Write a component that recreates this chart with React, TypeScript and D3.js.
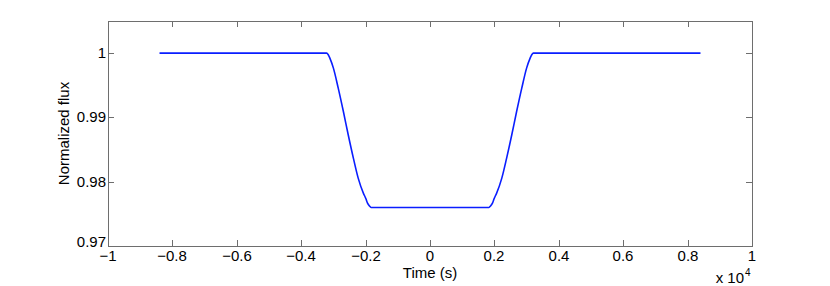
import React, { useRef, useEffect } from "react";
import * as d3 from "d3";

// light curve (time in s, normalized flux)
const times = [
  -8400, -3210, -3160, -3110, -3000, -2850, -2690, -2540, -2380, -2230, -2070, -1990, -1940, -1880, -1830,
  1830, 1880, 1940, 1990, 2070, 2230, 2380, 2540, 2690, 2850, 3000, 3110, 3160, 3210, 8400,
];
const flux = [
  1.0, 1.0, 0.99975, 0.99922, 0.99767, 0.99456, 0.99092, 0.9873, 0.98367, 0.98056, 0.97823, 0.97735, 0.97667, 0.97622, 0.976,
  0.976, 0.97622, 0.97667, 0.97735, 0.97823, 0.98056, 0.98367, 0.9873, 0.99092, 0.99456, 0.99767, 0.99922, 0.99975, 1.0, 1.0,
];
const xTicks = [-1, -0.8, -0.6, -0.4, -0.2, 0, 0.2, 0.4, 0.6, 0.8, 1];
const yTicks = [0.97, 0.98, 0.99, 1];

const width = 830;
const height = 286;
const margin = { top: 21, right: 78, bottom: 40, left: 108 };
const font = "'Liberation Sans', Arial, Helvetica, sans-serif";
const fontSize = 15;
const axisColor = "#6e6e6e";

function LightCurve() {
  const svgRef = useRef<SVGSVGElement>(null);

  useEffect(() => {
    const svg = d3.select(svgRef.current);
    svg.selectAll("*").remove();

    const innerWidth = width - margin.left - margin.right;
    const innerHeight = height - margin.top - margin.bottom;

    const x = d3.scaleLinear().domain([-1e4, 1e4]).range([0, innerWidth]);
    const y = d3.scaleLinear().domain([0.97, 1.005]).range([innerHeight, 0]);

    const g = svg.append("g").attr("transform", `translate(${margin.left},${margin.top})`);

    const line = d3
      .line<number>()
      .x((d, i) => x(times[i]))
      .y((d) => y(d))
      .curve(d3.curveMonotoneX);

    g.append("path")
      .datum(flux)
      .attr("d", line)
      .attr("fill", "none")
      .attr("stroke", "#0a1eff")
      .attr("stroke-width", 1.6);

    // box
    g.append("rect")
      .attr("width", innerWidth)
      .attr("height", innerHeight)
      .attr("fill", "none")
      .attr("stroke", axisColor)
      .attr("stroke-width", 1)
      .attr("shape-rendering", "crispEdges");

    const tickLen = 6;

    // x ticks (bottom and top, pointing in)
    xTicks.forEach((t) => {
      const px = Math.round(x(t * 1e4));
      g.append("line")
        .attr("x1", px).attr("x2", px)
        .attr("y1", innerHeight).attr("y2", innerHeight - tickLen)
        .attr("stroke", axisColor).attr("shape-rendering", "crispEdges");
      g.append("line")
        .attr("x1", px).attr("x2", px)
        .attr("y1", 0).attr("y2", tickLen)
        .attr("stroke", axisColor).attr("shape-rendering", "crispEdges");
      g.append("text")
        .attr("x", px)
        .attr("y", innerHeight + 15)
        .attr("text-anchor", "middle")
        .attr("font-family", font)
        .attr("font-size", fontSize)
        .text(t === 0 ? "0" : String(t).replace("-", "\u2212"));
    });

    // y ticks (left and right, pointing in)
    yTicks.forEach((t) => {
      const py = Math.round(y(t));
      g.append("line")
        .attr("x1", 0).attr("x2", tickLen)
        .attr("y1", py).attr("y2", py)
        .attr("stroke", axisColor).attr("shape-rendering", "crispEdges");
      g.append("line")
        .attr("x1", innerWidth).attr("x2", innerWidth - tickLen)
        .attr("y1", py).attr("y2", py)
        .attr("stroke", axisColor).attr("shape-rendering", "crispEdges");
      g.append("text")
        .attr("x", -2)
        .attr("y", t === 0.97 ? py + 1 : py + 5)
        .attr("text-anchor", "end")
        .attr("font-family", font)
        .attr("font-size", fontSize)
        .text(String(t));
    });

    // axis labels
    g.append("text")
      .attr("x", innerWidth / 2)
      .attr("y", innerHeight + 32)
      .attr("text-anchor", "middle")
      .attr("font-family", font)
      .attr("font-size", fontSize)
      .text("Time (s)");

    g.append("text")
      .attr("transform", `translate(${-39},${innerHeight / 2}) rotate(-90)`)
      .attr("text-anchor", "middle")
      .attr("font-family", font)
      .attr("font-size", fontSize)
      .text("Normalized flux");

    // exponent
    g.append("text")
      .attr("x", innerWidth - 8)
      .attr("y", innerHeight + 37)
      .attr("text-anchor", "end")
      .attr("font-family", font)
      .attr("font-size", fontSize)
      .text("x 10");
    g.append("text")
      .attr("x", innerWidth - 7)
      .attr("y", innerHeight + 30)
      .attr("font-family", font)
      .attr("font-size", 10)
      .text("4");
  }, []);

  return (
    <svg
      ref={svgRef}
      width={width}
      height={height}
      style={{ position: "absolute", left: 0, top: 0, background: "#fff" }}
    />
  );
}

export default function App() {
  return <LightCurve />;
}
